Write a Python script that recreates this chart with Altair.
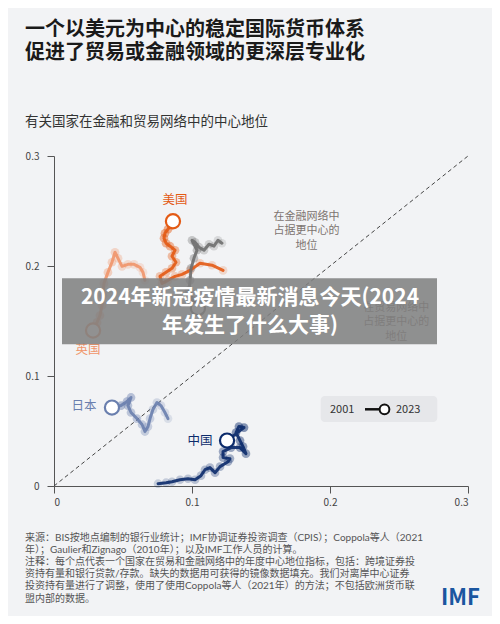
import altair as alt
import pandas as pd

FONT = "Noto Sans CJK SC"
FOOT_FONT = "Lato, Noto Sans CJK SC"
BG = "#f2f3f5"

countries = ["美国", "英国", "德国", "日本", "中国"]
colors = ["#e35a14", "#f0956a", "#6f6f6f", "#6a7fae", "#0c2b6b"]

usa_x = [0.1225, 0.1145, 0.1058, 0.0986, 0.0928, 0.0877, 0.0826, 0.0783, 0.0768, 0.0812, 0.0855,
         0.0884, 0.0855, 0.0877, 0.0841, 0.0812, 0.0797, 0.0804, 0.0826, 0.0848, 0.0862]
usa_y = [0.196, 0.2007, 0.2025, 0.196, 0.1924, 0.1906, 0.187, 0.1842, 0.1906, 0.1943, 0.1979,
         0.2034, 0.2089, 0.2143, 0.218, 0.2207, 0.2253, 0.2298, 0.2335, 0.2371, 0.2407]

uk_x = [0.0659, 0.0645, 0.0623, 0.058, 0.0536, 0.0493, 0.0464, 0.0442, 0.042, 0.0391, 0.0362,
        0.0355, 0.0348, 0.0333, 0.0312, 0.0283]
uk_y = [0.187, 0.1942, 0.1988, 0.2015, 0.2015, 0.1997, 0.207, 0.2125, 0.2034, 0.1942, 0.1842,
        0.1733, 0.1642, 0.155, 0.1487, 0.1414]

de_x = [0.1217, 0.1188, 0.1159, 0.1123, 0.1087, 0.1051, 0.1022, 0.1, 0.1036, 0.1014, 0.0993,
        0.0986, 0.0978, 0.1007, 0.1043]
de_y = [0.2207, 0.2234, 0.218, 0.2198, 0.2143, 0.2171, 0.2216, 0.2234, 0.2143, 0.207, 0.1979,
        0.187, 0.178, 0.169, 0.1617]

jp_x = [0.0826, 0.0804, 0.0775, 0.0746, 0.0717, 0.0696, 0.0681, 0.0659, 0.0638, 0.0601, 0.0558,
        0.0536, 0.0558, 0.0529, 0.0486, 0.042]
jp_y = [0.0613, 0.0668, 0.0731, 0.0759, 0.0695, 0.0613, 0.054, 0.0495, 0.0559, 0.0613, 0.0668,
        0.0731, 0.0805, 0.0768, 0.0731, 0.0713]

cn_x = [0.0754, 0.0812, 0.0855, 0.0913, 0.0971, 0.1022, 0.1065, 0.1094, 0.113, 0.1167, 0.1203,
        0.1261, 0.1275, 0.1225, 0.1225, 0.1283, 0.1348, 0.1391, 0.137, 0.1348, 0.1319, 0.134,
        0.1377, 0.1254]
cn_y = [0.0021, 0.003, 0.0039, 0.0057, 0.0066, 0.0057, 0.0094, 0.0148, 0.0167, 0.0121, 0.0176,
        0.0221, 0.0249, 0.0258, 0.0313, 0.0349, 0.0349, 0.0294, 0.0358, 0.0413, 0.0486, 0.0541,
        0.0531, 0.0413]

series = {"美国": (usa_x, usa_y), "英国": (uk_x, uk_y), "德国": (de_x, de_y),
          "日本": (jp_x, jp_y), "中国": (cn_x, cn_y)}

# labels for the countries (data coordinates)
label_names = ["美国", "英国", "日本", "中国"]
label_x = [0.0877, 0.0246, 0.0217, 0.1058]
label_y = [0.2598, 0.1232, 0.0723, 0.0413]

axis_ticks = [0, 0.1, 0.2, 0.3]

title_lines = ["一个以美元为中心的稳定国际货币体系", "促进了贸易或金融领域的更深层专业化"]
subtitle = "有关国家在金融和贸易网络中的中心地位"
note_fin = ["在金融网络中", "占据更中心的", "地位"]
note_trade = ["在贸易网络中", "占据更中心的", "地位"]
footnote = [
    "来源：BIS按地点编制的银行业统计；IMF协调证券投资调查（CPIS）；Coppola等人（2021",
    "年）；Gaulier和Zignago（2010年）；以及IMF工作人员的计算。",
    "注释：每个点代表一个国家在贸易和金融网络中的年度中心地位指标，包括：跨境证券投",
    "资持有量和银行贷款/存款。缺失的数据用可获得的镜像数据填充。我们对离岸中心证券",
    "投资持有量进行了调整，使用了使用Coppola等人（2021年）的方法；不包括欧洲货币联",
    "盟内部的数据。",
]
banner = ["2024年新冠疫情最新消息今天(2024", "年发生了什么大事)"]

rows = []
for c, (xs, ys) in series.items():
    n = len(xs)
    for i, (a, b) in enumerate(zip(xs, ys)):
        rows.append({"country": c, "i": i, "x": a, "y": b, "prog": i / (n - 1), "last": i == n - 1})
df = pd.DataFrame(rows)
end_df = df[df["last"]]
lab_df = pd.DataFrame({"country": label_names, "x": label_x, "y": label_y})

cscale = alt.Scale(domain=countries, range=colors)
xs_ = alt.Scale(domain=[0, 0.3], nice=False)
ys_ = alt.Scale(domain=[0, 0.3], nice=False)
xax = alt.Axis(values=axis_ticks, format="~g", title=None, grid=False, domainColor="#555",
               tickColor="#555", tickSize=7, labelFontSize=10, labelColor="#444", labelPadding=4,
               labelFont=FONT)
yax = alt.Axis(values=axis_ticks, format="~g", title=None, grid=False, domainColor="#555",
               tickColor="#555", tickSize=7, labelFontSize=10, labelColor="#444", labelPadding=8,
               labelFont=FONT)

X = alt.X("x:Q", scale=xs_, axis=xax)
Y = alt.Y("y:Q", scale=ys_, axis=yax)

diag = alt.Chart(pd.DataFrame({"x": [0, 0.3], "y": [0, 0.3]})).mark_line(
    strokeDash=[4, 3], color="#444", strokeWidth=1).encode(x=X, y=Y)

halo = alt.Chart(df).mark_circle(size=75).encode(
    x=X, y=Y, color=alt.Color("country:N", scale=cscale, legend=None),
    opacity=alt.Opacity("prog:Q", scale=alt.Scale(domain=[0, 1], range=[0.18, 0.5]), legend=None))

line = alt.Chart(df).mark_line(strokeWidth=3, strokeCap="round", strokeJoin="round", opacity=0.9).encode(
    x=X, y=Y, color=alt.Color("country:N", scale=cscale, legend=None),
    order="i:Q", detail="country:N")

ends = alt.Chart(end_df).mark_point(filled=True, fill="white", fillOpacity=1, opacity=1,
                                    size=200, strokeWidth=2.2).encode(
    x=X, y=Y, stroke=alt.Stroke("country:N", scale=cscale, legend=None))

labels = alt.Chart(lab_df).mark_text(font=FONT, fontSize=12.5, align="center", baseline="middle").encode(
    x=X, y=Y, text="country:N", color=alt.Color("country:N", scale=cscale, legend=None))

one = pd.DataFrame({"a": [0]})


def txt(lines, x, y, size, color, weight="normal", align="left", baseline="middle", lh=None,
        font=FONT):
    kw = dict(text=lines, fontSize=size, color=color, fontWeight=weight, align=align,
              baseline=baseline, font=font)
    if lh is not None:
        kw["lineHeight"] = lh
    return alt.Chart(one).mark_text(**kw).encode(x=alt.value(x), y=alt.value(y))


ann1 = alt.Chart(one).mark_text(text=note_fin, font=FONT, fontSize=11, color="#7d7470",
                                align="center", baseline="middle", lineHeight=14.5).encode(
    x=alt.datum(0.183, scale=xs_), y=alt.datum(0.245, scale=ys_))
ann2 = alt.Chart(one).mark_text(text=note_trade, font=FONT, fontSize=11, color="#7d7470",
                                align="center", baseline="middle", lineHeight=14.5).encode(
    x=alt.datum(0.248, scale=xs_), y=alt.datum(0.162, scale=ys_))

# legend box
leg_box = alt.Chart(one).mark_rect(fill="#e6e7ea", cornerRadius=4).encode(
    x=alt.value(266.7), x2=alt.value(383.3), y=alt.value(240), y2=alt.value(266))
leg_t1 = txt("2001", 276, 253.5, 11, "#333")
leg_t2 = txt("2023", 342, 253.5, 11, "#333")
leg_line = alt.Chart(one).mark_rule(color="#111", strokeWidth=2.5).encode(
    x=alt.value(311), x2=alt.value(328), y=alt.value(253.3))
leg_pt = alt.Chart(one).mark_point(filled=True, fill="white", fillOpacity=1, stroke="#111",
                                   strokeWidth=2, size=95, opacity=1).encode(
    x=alt.value(330.5), y=alt.value(253.3))

title1 = txt(title_lines[0], -29, -126, 20, "#1a1a1a", weight="bold")
title2 = txt(title_lines[1], -29, -103, 20, "#1a1a1a", weight="bold")
sub = txt(subtitle, -29, -34, 13.5, "#333")
foot = txt(footnote, -29, 376.5, 10, "#555", baseline="top", lh=12.2, font=FOOT_FONT)
imf = txt("IMF", 426, 442, 22, "#1b56a0", weight="bold", align="right")

ban_rect = alt.Chart(one).mark_rect(fill="#7f7f7f", opacity=0.86).encode(
    x=alt.value(8), x2=alt.value(383), y=alt.value(122.3), y2=alt.value(188.3))
ban_t1 = txt(banner[0], 196, 141.5, 21, "white", weight="bold", align="center")
ban_t2 = txt(banner[1], 196, 169.5, 21, "white", weight="bold", align="center")

chart = alt.layer(
    diag, halo, line, ends, labels, ann1, ann2,
    leg_box, leg_line, leg_pt, leg_t1, leg_t2,
    title1, title2, sub, foot, imf,
    ban_rect, ban_t1, ban_t2,
).properties(
    width=414, height=330,
    autosize=alt.AutoSizeParams(type="none"),
    padding={"left": 46, "top": 148, "right": 24, "bottom": 130},
    background=BG,
).configure_view(stroke=None)

chart.save("out.html", embed_options={"renderer": "svg", "actions": False})
